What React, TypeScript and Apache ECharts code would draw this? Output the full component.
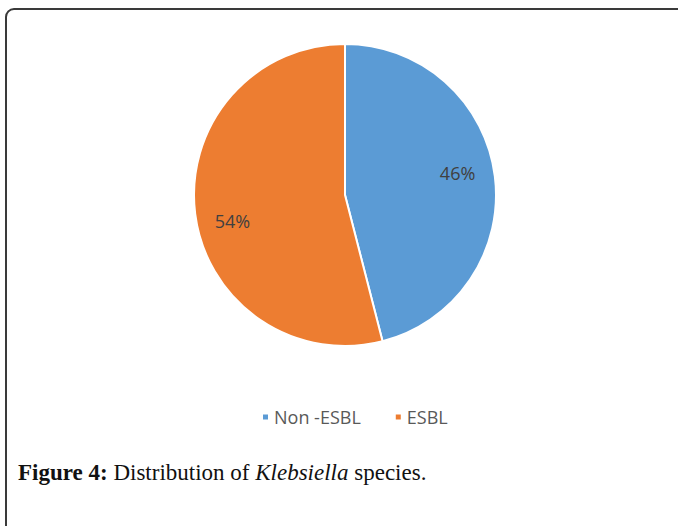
import React, { useEffect, useRef } from "react";
import * as echarts from "echarts";

const categories = ["Non -ESBL", "ESBL"];
const values = [46, 54];
const colors = ["#5B9BD5", "#ED7D31"];

export default function App() {
  const ref = useRef<HTMLDivElement>(null);
  useEffect(() => {
    document.body.style.margin = "0";
    const chart = echarts.init(ref.current!, null, { renderer: "svg" });
    const cx = 345;
    const cy = 195;
    const data = categories.map((name, i) => ({
      name,
      value: values[i],
      itemStyle: { color: colors[i] },
    }));
    chart.setOption({
      animation: false,
      backgroundColor: "#ffffff",
      legend: {
        data: categories.map((name, i) => ({ name, itemStyle: { color: colors[i] } })),
        top: 403,
        left: 256,
        icon: "rect",
        itemWidth: 7,
        itemHeight: 7,
        itemGap: 33,
        selectedMode: false,
        textStyle: { color: "#595959", fontSize: 18, fontFamily: "Open Sans" },
      },
      series: [
        {
          type: "pie",
          center: [cx, cy],
          radius: [0, 151],
          startAngle: 90,
          clockwise: true,
          silent: true,
          label: { show: false },
          labelLine: { show: false },
          itemStyle: { borderColor: "#ffffff", borderWidth: 2 },
          data,
        },
        {
          type: "pie",
          center: [cx, cy],
          radius: [70, 151],
          startAngle: 90,
          clockwise: true,
          silent: true,
          itemStyle: { color: "transparent", borderWidth: 0 },
          label: {
            show: true,
            position: "inside",
            formatter: (p: any) => p.value + "%",
            color: "#404040",
            fontSize: 18,
            fontFamily: "Open Sans",
          },
          labelLine: { show: false },
          labelLayout: (p: any) => ({
            dy: p.labelRect.y + p.labelRect.height / 2 < cy ? -8 : 12,
          }),
          data: categories.map((name, i) => ({ name, value: values[i] })),
        },
      ],
      graphic: [
        {
          type: "rect",
          shape: { x: 6, y: 9, width: 720, height: 600, r: 8 },
          style: { fill: "none", stroke: "#3a3a3a", lineWidth: 2 },
          silent: true,
        },
        {
          type: "text",
          left: 18,
          top: 461,
          style: {
            text: "{b|Figure 4:} Distribution of {i|Klebsiella} species.",
            font: "23px 'Liberation Serif'",
            fill: "#111111",
            rich: {
              b: { fontWeight: "bold", fontSize: 23, fontFamily: "Liberation Serif", fill: "#111111" },
              i: { fontStyle: "italic", fontSize: 23, fontFamily: "Liberation Serif", fill: "#111111" },
            },
          },
        },
      ],
    });
    return () => chart.dispose();
  }, []);
  return (
    <div
      ref={ref}
      style={{ position: "fixed", left: 0, top: 0, width: 678, height: 526 }}
    />
  );
}
